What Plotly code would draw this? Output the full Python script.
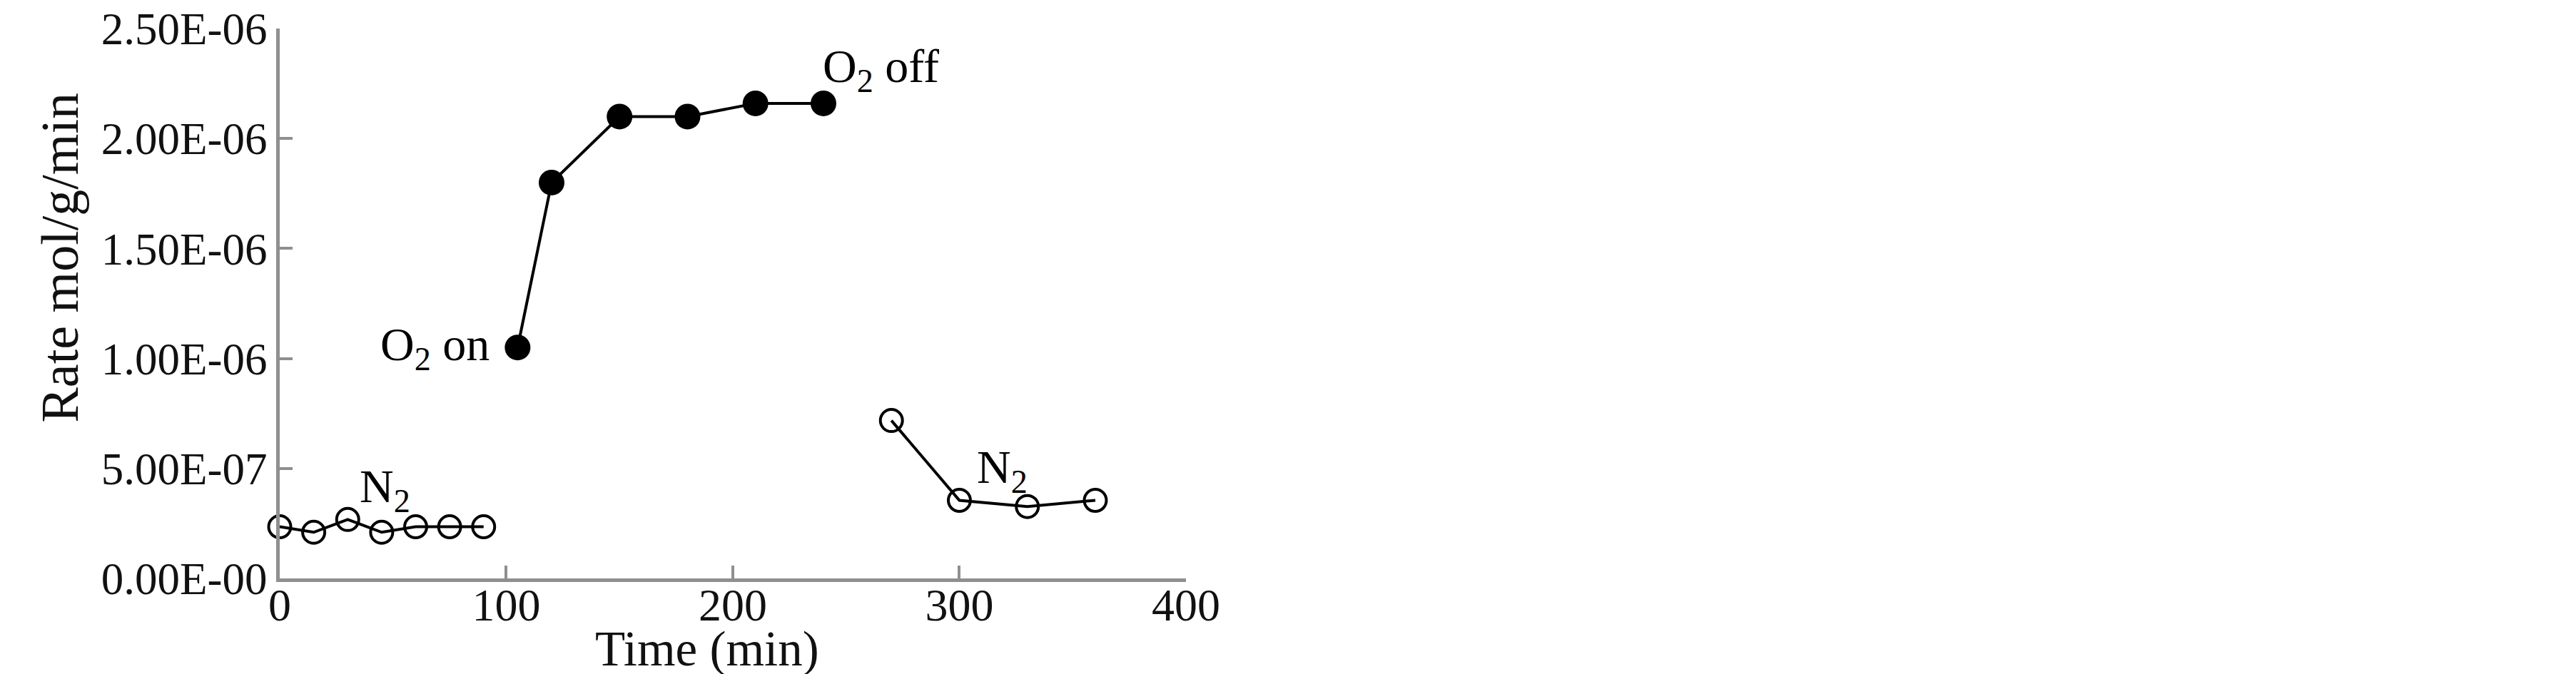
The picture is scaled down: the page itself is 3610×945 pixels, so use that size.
import plotly.graph_objects as go

# data
n2_before_t = [0, 15, 30, 45, 60, 75, 90]
n2_before_rate = [2.35e-7, 2.1e-7, 2.68e-7, 2.1e-7, 2.35e-7, 2.35e-7, 2.35e-7]

o2_t = [105, 120, 150, 180, 210, 240]
o2_rate = [1.05e-6, 1.80e-6, 2.10e-6, 2.10e-6, 2.16e-6, 2.16e-6]

n2_after_t = [270, 300, 330, 360]
n2_after_rate = [7.18e-7, 3.55e-7, 3.27e-7, 3.55e-7]

x_ticks = [0, 100, 200, 300, 400]
y_ticks = [0, 5e-7, 1e-6, 1.5e-6, 2e-6, 2.5e-6]
y_ticktext = ["0.00E-00", "5.00E-07", "1.00E-06", "1.50E-06", "2.00E-06", "2.50E-06"]

FONT = "Liberation Serif"
AXIS_GRAY = "#8f8f8f"

fig = go.Figure()

open_marker = dict(symbol="circle-open", size=31, color="black", line=dict(width=4, color="black"))
fig.add_trace(go.Scatter(x=n2_before_t, y=n2_before_rate, mode="lines+markers",
                         line=dict(color="black", width=4), marker=open_marker, cliponaxis=False))
fig.add_trace(go.Scatter(x=o2_t, y=o2_rate, mode="lines+markers",
                         line=dict(color="black", width=4),
                         marker=dict(symbol="circle", size=36, color="black"), cliponaxis=False))
fig.add_trace(go.Scatter(x=n2_after_t, y=n2_after_rate, mode="lines+markers",
                         line=dict(color="black", width=4), marker=open_marker, cliponaxis=False))

lab_font = dict(family=FONT, size=66, color="black")
fig.add_annotation(x=93.2, y=1.048e-6, text="O<sub>2</sub> on", showarrow=False,
                   xanchor="right", yanchor="middle", font=lab_font)
fig.add_annotation(x=239, y=2.313e-6, text="O<sub>2</sub> off", showarrow=False,
                   xanchor="left", yanchor="middle", font=lab_font)
fig.add_annotation(x=34.6, y=4.03e-7, text="N<sub>2</sub>", showarrow=False,
                   xanchor="left", yanchor="middle", font=lab_font)
fig.add_annotation(x=307, y=4.9e-7, text="N<sub>2</sub>", showarrow=False,
                   xanchor="left", yanchor="middle", font=lab_font)

# axis titles placed as annotations (offset from the axis centre in the original)
fig.add_annotation(xref="paper", yref="paper", x=-0.2433, y=0.583, text="Rate mol/g/min",
                   textangle=-90, showarrow=False, xanchor="center", yanchor="middle",
                   font=dict(family=FONT, size=74, color="#111"))
fig.add_annotation(xref="paper", yref="paper", x=0.4717, y=-0.128, text="Time (min)",
                   showarrow=False, xanchor="center", yanchor="middle",
                   font=dict(family=FONT, size=69, color="#111"))

fig.update_layout(
    width=3610, height=945,
    margin=dict(l=384, r=1956, t=32, b=142, autoexpand=False),
    plot_bgcolor="white", paper_bgcolor="white",
    showlegend=False,
    font=dict(family=FONT, color="#111"),
)
fig.update_xaxes(range=[0, 400.01], tickvals=x_ticks, ticks="inside", ticklen=18, tickwidth=4,
                 tickcolor=AXIS_GRAY, showline=True, linecolor=AXIS_GRAY, linewidth=5,
                 showgrid=False, zeroline=False, tickfont=dict(family=FONT, size=64, color="#111"),
                 ticklabelstandoff=-23, ticklabeloverflow="allow", automargin=False)
fig.update_yaxes(range=[0, 2.5005e-6], tickvals=y_ticks, ticktext=y_ticktext, ticks="inside",
                 ticklen=18, tickwidth=4, tickcolor=AXIS_GRAY, showline=True, linecolor=AXIS_GRAY,
                 linewidth=5, showgrid=False, zeroline=False, ticklabeloverflow="allow",
                 automargin=False, tickfont=dict(family=FONT, size=63, color="#111"))

fig.write_html("out.html")
